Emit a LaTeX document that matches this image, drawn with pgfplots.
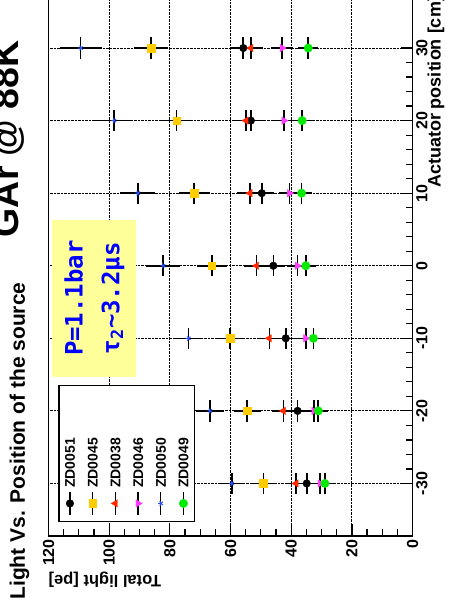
\documentclass[border=0pt]{standalone}
\usepackage{fontspec}
\setmainfont{Liberation Sans}
\newfontfamily\monofont{DejaVu Sans Mono}
\usepackage{pgfplots}
\pgfplotsset{compat=1.18}
\usepackage{pgfplotstable}

\definecolor{cYel}{RGB}{255,204,0}
\definecolor{cRed}{RGB}{255,40,0}
\definecolor{cMag}{RGB}{255,60,255}
\definecolor{cBlu}{RGB}{40,80,255}
\definecolor{cGrn}{RGB}{0,235,0}
\definecolor{cBox}{RGB}{255,255,153}

% ZD0051
\pgfplotstableread{
pos val ep ev
-30 34.9 1 2.1
-20 37.9 1 2.3
-10 41.8 1 2.5
0 45.9 1 2.7
10 49.7 1 2.9
20 53.3 1 3.1
30 55.8 1 3.2
}\tblA
% ZD0045
\pgfplotstableread{
pos val ep ev
-30 49.2 1 3.2
-20 54.5 1 3.4
-10 60.2 1 3.6
0 66.2 1 3.8
10 72.0 1 4.0
20 77.8 1 4.2
30 86.2 1 4.4
}\tblB
% ZD0038
\pgfplotstableread{
pos val ep ev
-30 38.4 1 2.3
-20 42.6 1 2.5
-10 47.2 1 2.7
0 51.4 1 2.9
10 53.6 1 3.0
20 54.9 1 3.1
30 53.3 1 3.0
}\tblC
% ZD0046
\pgfplotstableread{
pos val ep ev
-30 30.5 1 2.0
-20 32.5 1 2.1
-10 35.2 1 2.2
0 38.0 1 2.3
10 40.6 1 2.4
20 42.4 1 2.5
30 43.0 1 2.5
}\tblD
% ZD0050
\pgfplotstableread{
pos val ep ev
-30 59.6 1 3.3
-20 66.8 1 3.5
-10 73.9 1 3.8
0 82.2 1 4.4
10 90.6 1 4.7
20 98.4 1 5.0
30 109.4 1 5.8
}\tblE
% ZD0049
\pgfplotstableread{
pos val ep ev
-30 28.9 1 2.0
-20 31.1 1 2.0
-10 32.7 1 2.1
0 35.2 1 2.2
10 36.6 1 2.3
20 36.4 1 2.3
30 34.4 1 2.2
}\tblF

\pgfplotsset{
  eb/.style={only marks,
    error bars/x dir=both, error bars/x explicit,
    error bars/y dir=both, error bars/y explicit,
    error bars/error bar style={black, line width=1.6pt},
    error bars/error mark options={black, mark size=3.4pt, line width=1.6pt}},
}

\begin{document}
\begin{tikzpicture}
\useasboundingbox (-412.6pt,-71.3pt) rectangle (39.4pt,535.7pt);
\begin{scope}[transform canvas={rotate=90}]
\begin{axis}[
  at={(0pt,0pt)}, anchor=south west,
  width=539.9pt, height=364.1pt, scale only axis,
  xmin=-37.2, xmax=37.2, ymin=0, ymax=120,
  xtick={-30,-20,...,30}, ytick={0,20,...,120},
  minor x tick num=4, minor y tick num=3,
  tick align=inside, tick pos=left,
  major tick length=12pt, minor tick length=7pt,
  grid=major, major grid style={black, densely dotted, line width=0.9pt},
  axis line style={line width=1.6pt},
  every tick/.style={black, line width=1.2pt},
  clip=false,
  /pgf/number format/assume math mode=true,
  ticklabel style={font=\fontsize{16}{16}\selectfont\bfseries},
  xlabel={Actuator position [cm]},
  xlabel style={at={(rel axis cs:1,0)}, anchor=base east, inner sep=0pt, yshift=-28pt,
    font=\fontsize{18}{18}\selectfont\bfseries},
  ylabel={Total light [pe]},
  ylabel style={at={(rel axis cs:0,1)}, anchor=base east, inner sep=0pt, yshift=40pt,
    font=\fontsize{16.5}{16.5}\selectfont\bfseries},
  legend style={at={(axis cs:-35.35,116.8)}, anchor=north west, draw=black, line width=1.5pt,
    fill=white, inner xsep=5.6pt, inner ysep=6pt, row sep=12.7pt, column sep=0pt,
    nodes={inner xsep=3pt, inner ysep=0pt, text height=10pt, text depth=0pt, text width=94pt,
      font=\fontsize{14}{14}\selectfont\bfseries}},
  legend cell align=left,
  legend image code/.code={
    \draw[black, line width=1.3pt] (0pt,0pt) -- (23.7pt,0pt);
    \draw[mark repeat=2, mark phase=2, #1, line width=0.4pt] plot coordinates {(0pt,0pt) (11.85pt,0pt) (23.7pt,0pt)};
  },
]
\addplot[eb, black, mark=*, mark size=3.8pt, mark options={line width=0.4pt}] table[x=pos, y=val, x error=ep, y error=ev] {\tblA};
\addlegendentry{ZD0051}
\addplot[eb, cYel, mark=square*, mark size=3.8pt, mark options={line width=0.4pt}] table[x=pos, y=val, x error=ep, y error=ev] {\tblB};
\addlegendentry{ZD0045}
\addplot[eb, cRed, mark=triangle*, mark size=4.2pt, mark options={line width=0.4pt}] table[x=pos, y=val, x error=ep, y error=ev] {\tblC};
\addlegendentry{ZD0038}
\addplot[eb, cMag, mark=triangle*, mark size=4.2pt, mark options={rotate=180, line width=0.4pt}] table[x=pos, y=val, x error=ep, y error=ev] {\tblD};
\addlegendentry{ZD0046}
\addplot[eb, cBlu, mark=star, mark size=2.6pt, mark options={line width=1pt}] table[x=pos, y=val, x error=ep, y error=ev] {\tblE};
\addlegendentry{ZD0050}
\addplot[eb, cGrn, mark=*, mark size=4.2pt, mark options={line width=0.4pt}] table[x=pos, y=val, x error=ep, y error=ev] {\tblF};
\addlegendentry{ZD0049}

\node[fill=cBox, text=blue, minimum width=156.7pt, minimum height=83.7pt, anchor=north west,
  inner sep=0pt, align=center, font=\monofont\bfseries\fontsize{24}{36.7}\selectfont]
  at (axis cs:-15.29,118.75) {P=1.1bar\\τ\textsubscript{2}\textasciitilde3.2μs};
\end{axis}
\node[anchor=base west, inner sep=0pt, font=\fontsize{21}{21}\selectfont\bfseries] at (-64pt,387.6pt)
  {Light Vs. Position of the source};
\node[anchor=base east, inner sep=0pt, font=\fontsize{37.5}{37.5}\selectfont\bfseries] at (495.7pt,393.6pt)
  {GAr @ 88K};
\end{scope}
\end{tikzpicture}
\end{document}
